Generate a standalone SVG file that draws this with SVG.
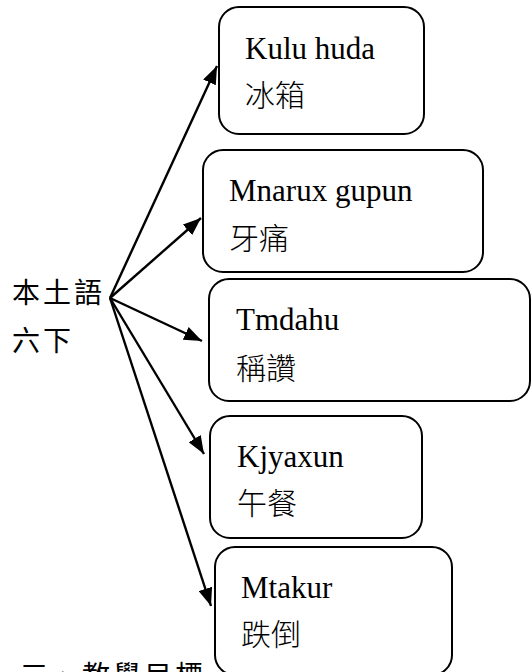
<svg xmlns="http://www.w3.org/2000/svg" width="531" height="672" viewBox="0 0 531 672">
<style>
.box{fill:#fff;stroke:#000;stroke-width:2}
.lat{font-family:"Liberation Serif","Times New Roman",serif;font-size:31px;fill:#000}
.cjk{font-family:"Noto Sans CJK TC","Noto Sans CJK SC",sans-serif;font-size:30px;font-weight:300;fill:#000}
.kai{font-family:"Noto Sans CJK TC","Noto Sans CJK SC",sans-serif;font-size:28px;fill:#000;letter-spacing:3px}
.conn{stroke:#000;stroke-width:2.4;fill:none;marker-end:url(#ah)}
</style>
<defs>
<marker id="ah" markerUnits="userSpaceOnUse" markerWidth="20" markerHeight="14" refX="18" refY="7" orient="auto">
<path d="M0,0 L18,7 L0,14 z" fill="#000"/>
</marker>
</defs>
<rect width="531" height="672" fill="#fff"/>
<g id="root">
<text class="kai" x="12" y="303">本土語</text>
<text class="kai" x="12" y="351">六下</text>
</g>
<g id="connectors">
<line class="conn" x1="110" y1="298" x2="217" y2="66"/>
<line class="conn" x1="110" y1="298" x2="201" y2="218"/>
<line class="conn" x1="110" y1="298" x2="202" y2="341"/>
<line class="conn" x1="110" y1="298" x2="204" y2="454"/>
<line class="conn" x1="110" y1="298" x2="211" y2="606"/>
</g>
<g id="n1">
<rect class="box" x="219" y="7" width="205" height="127" rx="20"/>
<text class="lat" x="245" y="59">Kulu huda</text>
<text class="cjk" x="245" y="106">冰箱</text>
</g>
<g id="n2">
<rect class="box" x="203" y="150" width="280" height="122" rx="20"/>
<text class="lat" x="229" y="201">Mnarux gupun</text>
<text class="cjk" x="229" y="249">牙痛</text>
</g>
<g id="n3">
<rect class="box" x="209" y="279" width="321" height="122" rx="20"/>
<text class="lat" x="236" y="330">Tmdahu</text>
<text class="cjk" x="236" y="379">稱讚</text>
</g>
<g id="n4">
<rect class="box" x="210" y="416" width="212" height="122" rx="20"/>
<text class="lat" x="237" y="467">Kjyaxun</text>
<text class="cjk" x="237" y="514">午餐</text>
</g>
<g id="n5">
<rect class="box" x="215" y="547" width="237" height="128" rx="20"/>
<text class="lat" x="241" y="598">Mtakur</text>
<text class="cjk" x="241" y="645">跌倒</text>
</g>
<text class="kai" x="20" y="686">三、教學目標</text>
</svg>
